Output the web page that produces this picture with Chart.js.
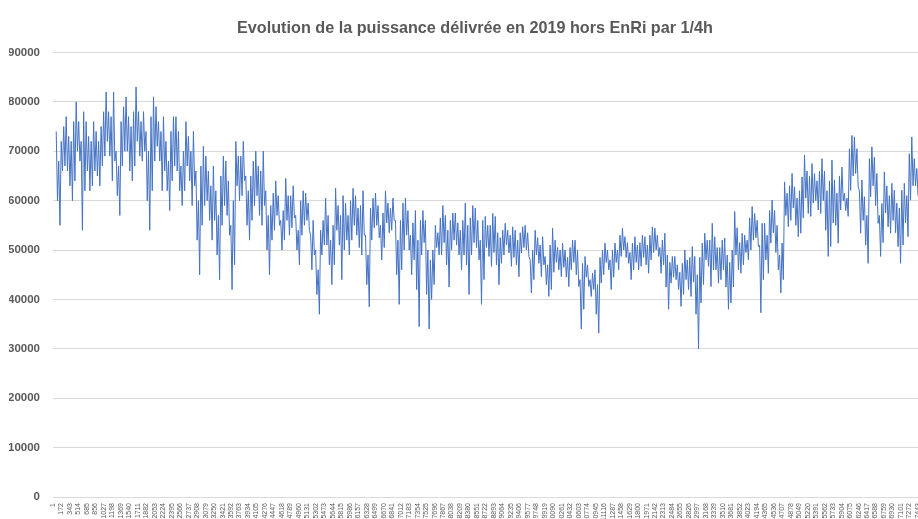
<!DOCTYPE html>
<html>
<head>
<meta charset="utf-8">
<script src="https://cdn.jsdelivr.net/npm/chart.js@4.4.1/dist/chart.umd.min.js"></script>
<style>
  html, body { margin: 0; padding: 0; overflow: hidden; background: #fff; width: 918px; height: 519px; }
  canvas { display: block; }
</style>
</head>
<body>
<canvas id="power-chart" width="941" height="530" style="width:941px;height:530px"></canvas>
<script>
// read off every 5px of the plot: extreme peak / trough, then the typical peak / trough of the band
var highs = [
  74000, 75000, 77000, 76000, 80000, 78000, 76000, 76000, 74000, 78000,
  82000, 82000, 70000, 79000, 81000, 78000, 83000, 78000, 74000, 81000,
  79000, 77000, 72000, 77000, 77000, 70000, 76000, 74000, 66000, 71000,
  69000, 67000, 62000, 69000, 68000, 60000, 72000, 72000, 65000, 68000,
  70000, 70000, 62000,
  61500, 64000, 58000, 64500, 63000, 57000, 62000, 61500, 56000, 50000,
  56000, 60500, 55000, 62500, 61000, 59500, 62500, 61000, 62000, 53000,
  60500, 61500, 57500, 62000, 60500, 56000, 59500, 60500, 55500, 58000,
  58000, 56000, 50000, 55000, 59000, 57000, 57500, 57500, 56000, 59500,
  59000, 58500, 56000,
  56800, 57400, 56800, 54000, 55400, 54700, 54000, 54700, 55000, 50000,
  54000, 52700, 48700, 54400, 52000, 51400, 50000, 52000, 52000, 47300,
  48700, 45300, 46000, 50000, 51400, 50000, 51400, 54400, 52700, 51400,
  52700, 53000, 52700, 54700, 54400, 52000, 53400, 48700, 48700, 47300,
  50000, 50700, 48700,
  51400, 53400, 55400, 52700, 52000, 52400, 50000, 57800, 53400, 53000,
  58800, 57400, 55400, 55400, 60100, 58000, 51400, 63800, 65500, 62800,
  64800, 69200, 67500, 65500, 68500, 66000, 68200, 64200, 66800, 61500,
  73200, 72900, 64200, 60800, 70900, 68800, 59400, 65800, 63500, 62100,
  62100, 63500, 72900, 68500
];

var lows = [
  55000, 66000, 63000, 60000, 68000, 54000, 62000, 63000, 63000, 67000,
  69000, 64000, 57000, 67000, 66000, 64000, 69000, 68000, 54000, 62000,
  68000, 62000, 58000, 64000, 62000, 59000, 64000, 59000, 45000, 55000,
  56000, 52000, 44000, 55000, 53000, 42000, 60000, 61000, 52000, 56000,
  57000, 55000, 45000,
  52000, 55000, 50000, 53000, 54500, 47000, 53000, 54000, 46000, 37000,
  49000, 47000, 43000, 51000, 44000, 49000, 52000, 50500, 49000, 38500,
  52000, 52500, 48000, 53500, 54000, 39000, 46000, 50000, 45000, 34500,
  49000, 34000, 40000, 49000, 49000, 42500, 50000, 49000, 46000, 41000,
  49000, 48000, 39000,
  48700, 46700, 43000, 47300, 49400, 46700, 44600, 49400, 48700, 41300,
  47300, 44600, 40600, 42000, 46000, 44600, 42600, 46000, 42600, 34000,
  42600, 40600, 33200, 43300, 46000, 42000, 46000, 48700, 47300, 44000,
  46000, 46700, 45300, 48000, 48700, 45300, 38000, 43300, 42000, 38600,
  42000, 40600, 30000,
  39300, 46700, 42600, 43300, 44000, 38000, 39300, 46000, 45300, 48000,
  50000, 50700, 37300, 45300, 51400, 46000, 41300, 54700, 56000, 52700,
  53400, 57400, 56800, 58100, 57400, 48700, 50700, 51400, 58100, 56800,
  62100, 62800, 53400, 47300, 60800, 55400, 48700, 54700, 53400, 50700,
  47300, 52700, 60100, 61000
];

var typicalHighs = [
  68000, 72000, 73000, 72000, 76000, 72000, 73000, 72000, 72000, 75000,
  78000, 77000, 67000, 76000, 77000, 75000, 78000, 76000, 70000, 77000,
  76000, 74000, 68000, 74000, 74000, 67000, 73000, 70000, 60000, 67000,
  66000, 63000, 57000, 65000, 64000, 55000, 69000, 69000, 62000, 65000,
  67000, 66000, 57000,
  59000, 61000, 56000, 61000, 61000, 54000, 60000, 59500, 53000, 46000,
  54000, 57000, 52000, 59000, 57000, 57000, 60000, 58500, 59000, 49000,
  58500, 59000, 55000, 59500, 58500, 52000, 56000, 58000, 53000, 52000,
  56000, 50000, 48000, 53500, 56500, 54000, 56000, 55500, 54000, 55000,
  56500, 56000, 52000,
  55000, 55000, 53500, 52500, 54000, 53000, 52000, 53500, 53500, 48000,
  52500, 51000, 47000, 51000, 50500, 50000, 48500, 50500, 50000, 44000,
  47000, 44000, 43000, 48500, 50000, 48000, 50000, 53000, 51500, 49500,
  51000, 51500, 51000, 53000, 53000, 50500, 49000, 47500, 47000, 45500,
  48000, 48500, 45000,
  48500, 52000, 52000, 50500, 50500, 49000, 47500, 54500, 51500, 52000,
  56500, 56000, 51000, 53000, 58000, 55000, 49000, 61500, 63000, 60500,
  62000, 66000, 65000, 64000, 66000, 62000, 64000, 61500, 65000, 60500,
  70500, 70500, 62000, 57000, 68500, 65500, 57000, 63000, 61000, 59500,
  58500, 61000, 69500, 66500
];

var typicalLows = [
  60000, 67000, 66000, 64000, 70000, 62000, 66000, 66000, 65000, 69000,
  72000, 68000, 61000, 70000, 70000, 67000, 72000, 70000, 60000, 68000,
  71000, 66000, 62000, 67000, 66000, 62000, 67000, 63000, 52000, 59000,
  60000, 56000, 49000, 59000, 57000, 47000, 63000, 64000, 55000, 59000,
  61000, 59000, 50000,
  54000, 57000, 52000, 56000, 56500, 50000, 55000, 56000, 49000, 41000,
  51000, 51000, 47000, 54000, 50000, 52000, 55000, 53000, 53000, 43000,
  54500, 55000, 50500, 55500, 56000, 45000, 50000, 53000, 48000, 42000,
  51500, 41000, 43000, 50500, 51500, 47000, 52000, 51000, 49000, 47000,
  51500, 50500, 44000,
  50500, 49500, 47000, 49000, 51000, 48500, 47000, 50500, 50000, 44000,
  49000, 47000, 43000, 45500, 47500, 46500, 44500, 47500, 45000, 38000,
  44500, 42000, 37000, 45000, 47500, 44500, 47500, 50000, 48500, 46000,
  47500, 48500, 47000, 49500, 50000, 47000, 42500, 44500, 44000, 41000,
  44000, 43500, 37000,
  43000, 48000, 46000, 46000, 46000, 42500, 42500, 49000, 47000, 49500,
  52000, 52500, 44000, 48000, 53500, 49500, 44000, 57000, 58500, 55000,
  56500, 60500, 59500, 60000, 60000, 54000, 55500, 55000, 60000, 58000,
  65000, 65500, 56000, 51000, 63000, 59000, 51500, 57500, 56000, 53500,
  51000, 55500, 63000, 63000
];

var tickLabels = [
  1, 172, 343, 514, 685, 856, 1027, 1198, 1369, 1540, 1711, 1882, 2053, 2224, 2395,
  2566, 2737, 2908, 3079, 3250, 3421, 3592, 3763, 3934, 4105, 4276, 4447, 4618, 4789,
  4960, 5131, 5302, 5473, 5644, 5815, 5986, 6157, 6328, 6499, 6670, 6841, 7012, 7183,
  7354, 7525, 7696, 7867, 8038, 8209, 8380, 8551, 8722, 8893, 9064, 9235, 9406, 9577,
  9748, 9919, 10090, 10261, 10432, 10603, 10774, 10945, 11116, 11287, 11458, 11629,
  11800, 11971, 12142, 12313, 12484, 12655, 12826, 12997, 13168, 13339, 13510, 13681,
  13852, 14023, 14194, 14365, 14536, 14707, 14878, 15049, 15220, 15391, 15562, 15733,
  15904, 16075, 16246, 16417, 16588, 16759, 16930, 17101, 17272, 17443
];

var firstSample = 66, sampleStep = 25.15;

// each 5px window holds two daily cycles: the extreme one and a typical one
var values = [];
highs.forEach(function (hi, k) {
  if (k % 2 === 0) {
    values.push(hi, typicalLows[k], typicalHighs[k], lows[k]);
  } else {
    values.push(typicalHighs[k], lows[k], hi, typicalLows[k]);
  }
});
var points = values.map(function (v, j) {
  return { x: firstSample + sampleStep * j, y: v };
});

var textColor = "#595959";
var gridColor = "#d9d9d9";
var fontFamily = "'Liberation Sans', Arial, sans-serif";

window.onload = function () {
  var canvas = document.getElementById("power-chart");
  new Chart(canvas, {
    type: "line",
    data: {
      datasets: [{
        data: points,
        borderColor: "#4472c4",
        borderWidth: 1,
        borderJoinStyle: "round",
        pointRadius: 0,
        tension: 0,
        fill: false
      }]
    },
    options: {
      responsive: false,
      animation: false,
      layout: { padding: { left: 9, right: 0, top: 0, bottom: 0 } },
      plugins: {
        legend: { display: false },
        tooltip: { enabled: false },
        title: {
          display: true,
          text: "Evolution de la puissance délivrée en 2019 hors EnRi par 1/4h",
          color: textColor,
          font: { family: fontFamily, size: 16.2, weight: "bold" },
          padding: { top: 19, bottom: 14 }
        }
      },
      scales: {
        x: {
          type: "linear",
          min: 1,
          max: 17908,
          afterBuildTicks: function (axis) {
            axis.ticks = tickLabels.map(function (v) { return { value: v }; });
          },
          afterFit: function (axis) {
            axis.height = 33;
            axis.paddingLeft = 0;
            axis.paddingRight = 0;
          },
          ticks: {
            autoSkip: false,
            minRotation: 90,
            maxRotation: 90,
            padding: 6,
            color: textColor,
            font: { family: fontFamily, size: 7 },
            callback: function (v) { return String(v); }
          },
          grid: { display: false, drawTicks: false },
          border: { display: true, color: gridColor, width: 1 }
        },
        y: {
          min: 0,
          max: 90000,
          afterFit: function (axis) { axis.width = 44; },
          ticks: {
            stepSize: 10000,
            padding: 13,
            color: textColor,
            font: { family: fontFamily, size: 11.5, weight: "bold" },
            callback: function (v) { return String(v); }
          },
          grid: { color: gridColor, drawTicks: false },
          border: { display: false }
        }
      }
    }
  });
};
</script>
</body>
</html>
